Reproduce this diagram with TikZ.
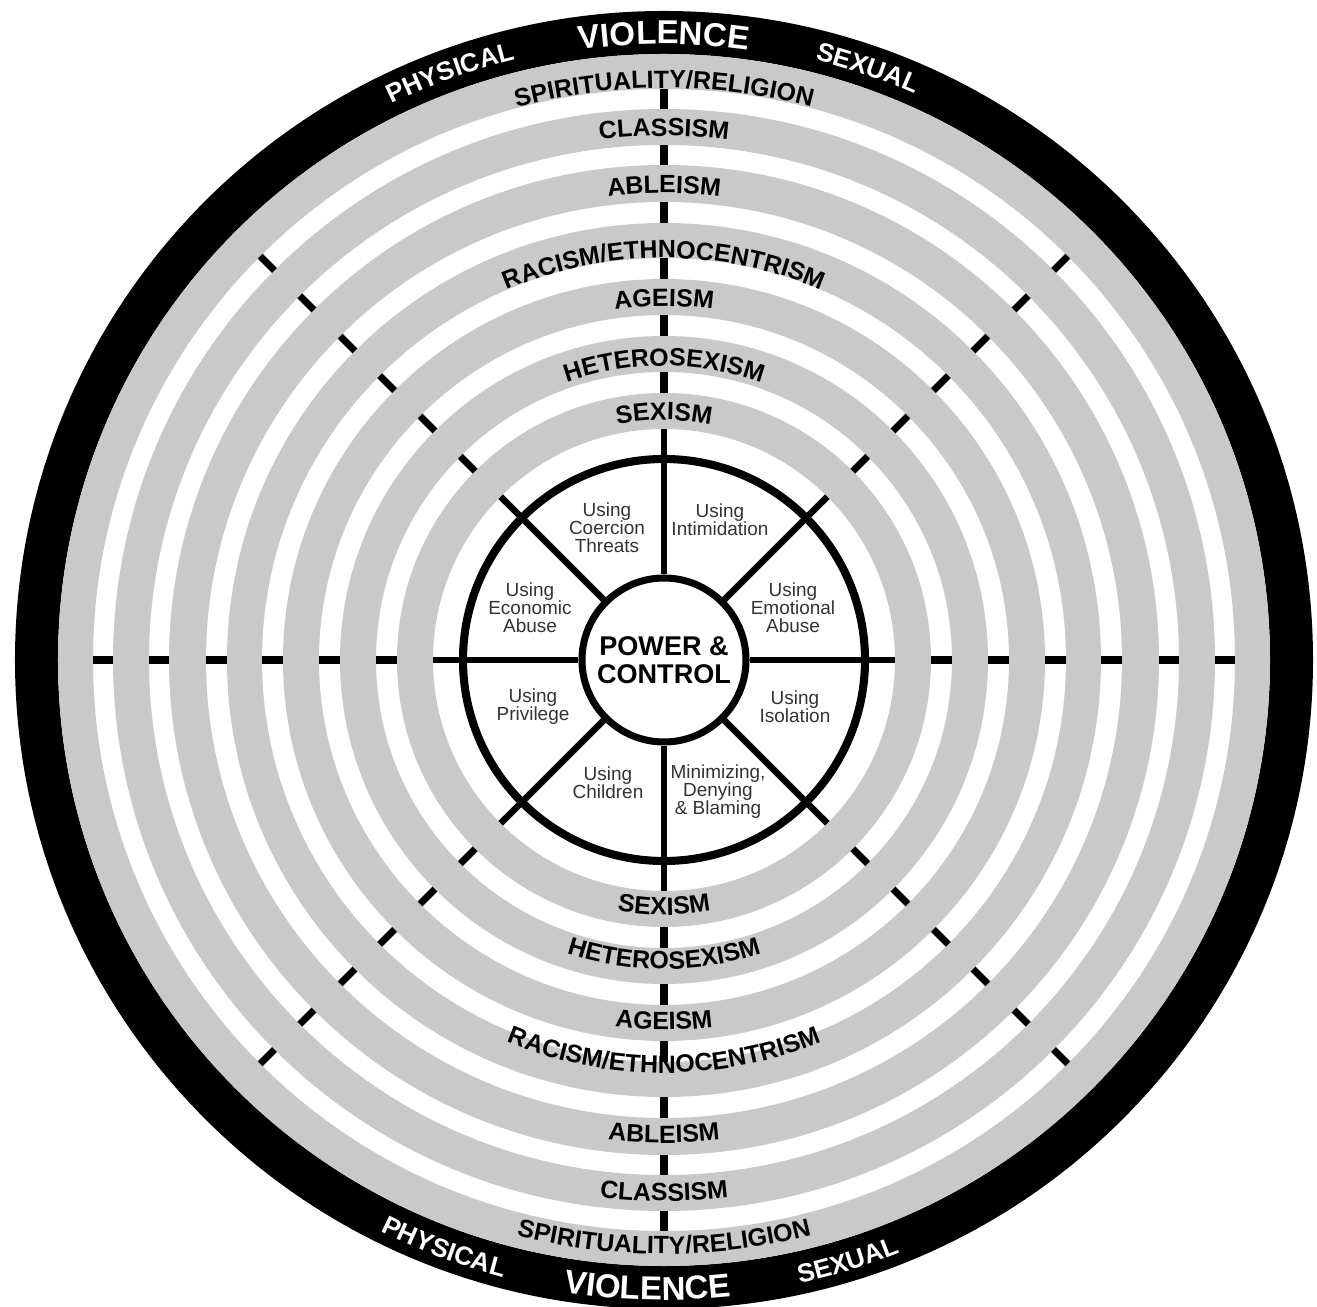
\documentclass[tikz,border=0pt]{standalone}
\usepackage{fontspec}
\setmainfont{Liberation Sans}
\usepackage{xcolor}
\usetikzlibrary{decorations.text}

\definecolor{bandgray}{RGB}{201,201,201}

\newcommand{\bandfont}{\fontsize{14.2}{17}\selectfont\bfseries}
\newcommand{\ringfont}{\fontsize{18.8}{22}\selectfont\bfseries}
\newcommand{\kindfont}{\fontsize{14.8}{17}\selectfont\bfseries}
\newcommand{\hubfont}{\fontsize{15.4}{15.9}\selectfont\bfseries}
\newcommand{\tacticfont}{\fontsize{10.8}{10.2}\selectfont}

\begin{document}
\begin{tikzpicture}[x=0.2mm, y=0.2mm,
    bandlabel/.style={decorate, decoration={text along path, text align=center, text={|\bandfont|#1}}},
    ringlabel/.style={decorate, decoration={text along path, text align=center, text color=white, text={|\ringfont|#1}}},
    kindlabel/.style={decorate, decoration={text along path, text align=center, text color=white, text={|\kindfont|#1}}},
    tickmark/.style={line width=4pt},
    spoke/.style={line width=3.8pt},
    tactic/.style={align=center, text=black!80, font=\tacticfont, inner sep=0pt}]

    \useasboundingbox (-664,-647) rectangle (653,660);

    % Outer ring (violence)
    \fill[even odd rule] (0,0) circle (649) circle (606);

    % Gray bands, outer to inner
    \foreach \ri/\ro in {571/606, 515/551, 458/495, 402/437, 345/381, 288/324, 231/267}
        \fill[bandgray, even odd rule] (0,0) circle (\ro) circle (\ri);

    % Tick marks in the white gaps
    \foreach \ri/\ro in {551/571, 495/515, 437/458, 381/402, 324/345, 267/288}
        \foreach \a in {0,45,...,315}
            \draw[tickmark] (\a:\ri) -- (\a:\ro);

    % Wheel and hub
    \node[circle, draw, line width=4.6pt, minimum size=80.4mm, inner sep=0pt] (wheel) at (0,0) {};
    \node[circle, draw, fill=white, line width=4pt, minimum size=32.8mm, inner sep=0pt,
          align=center, font=\hubfont] (hub) at (0,0) {POWER \&\\CONTROL};

    % Spokes from the hub out to the sexism band
    \foreach \a in {0,45,...,315} {
        \coordinate (rim\a) at (\a:231);
        \draw[spoke] (hub.\a) -- (rim\a);
    }

    % Tactics inside the wheel
    \node[tactic] (coercion) at (-57,132) {Using\\Coercion\\Threats};
    \node[tactic] (intimidation) at (56,140) {Using\\Intimidation};
    \node[tactic] (emotional) at (129,52) {Using\\Emotional\\Abuse};
    \node[tactic] (economic) at (-134,52) {Using\\Economic\\Abuse};
    \node[tactic] (privilege) at (-131,-47) {Using\\Privilege};
    \node[tactic] (isolation) at (131,-47) {Using\\Isolation};
    \node[tactic] (children) at (-56,-123) {Using\\Children};
    \node[tactic] (minimizing) at (54,-132) {Minimizing,\\Denying\\\& Blaming};

    % --- Band labels ---

    % Top half (reading along the upper arc)
    \path[bandlabel=SPIRITUALITY/RELIGION] (135:572) arc[start angle=135, end angle=45, radius=572];
    \path[bandlabel=CLASSISM] (135:524) arc[start angle=135, end angle=45, radius=524];
    \path[bandlabel=ABLEISM] (135:467) arc[start angle=135, end angle=45, radius=467];
    \path[bandlabel=RACISM/ETHNOCENTRISM] (140:402) arc[start angle=140, end angle=40, radius=402];
    \path[bandlabel=AGEISM] (135:354) arc[start angle=135, end angle=45, radius=354];
    \path[bandlabel=HETEROSEXISM] (135:294) arc[start angle=135, end angle=45, radius=294];
    \path[bandlabel=SEXISM] (135:240) arc[start angle=135, end angle=45, radius=240];

    % Bottom half (reading along the lower arc)
    \path[bandlabel=SPIRITUALITY/RELIGION] (225:594) arc[start angle=225, end angle=315, radius=594];
    \path[bandlabel=CLASSISM] (225:541) arc[start angle=225, end angle=315, radius=541];
    \path[bandlabel=ABLEISM] (225:483) arc[start angle=225, end angle=315, radius=483];
    \path[bandlabel=RACISM/ETHNOCENTRISM] (220:413) arc[start angle=220, end angle=320, radius=413];
    \path[bandlabel=AGEISM] (225:370) arc[start angle=225, end angle=315, radius=370];
    \path[bandlabel=HETEROSEXISM] (225:309) arc[start angle=225, end angle=315, radius=309];
    \path[bandlabel=SEXISM] (225:255) arc[start angle=225, end angle=315, radius=255];

    % --- Ring labels ---
    \path[ringlabel=VIOLENCE] (115:616) arc[start angle=115, end angle=65, radius=616];
    \path[kindlabel=PHYSICAL] (135:619) arc[start angle=135, end angle=85, radius=619];
    \path[kindlabel=SEXUAL] (96:619) arc[start angle=96, end angle=46, radius=619];

    \path[ringlabel=VIOLENCE] (243.5:640) arc[start angle=243.5, end angle=293.5, radius=640];
    \path[kindlabel=PHYSICAL] (224.5:638) arc[start angle=224.5, end angle=274.5, radius=638];
    \path[kindlabel=SEXUAL] (262:638) arc[start angle=262, end angle=312, radius=638];

\end{tikzpicture}
\end{document}
